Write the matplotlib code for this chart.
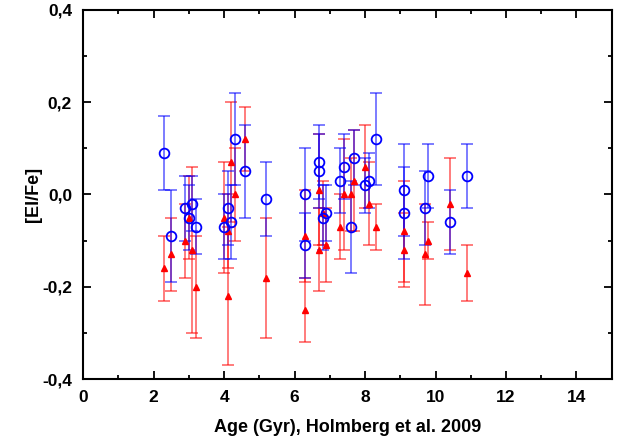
import numpy as np
import matplotlib
matplotlib.use("Agg")
from matplotlib import pyplot as plt
from matplotlib.ticker import MultipleLocator, FuncFormatter

# blue open circles
age_b = [2.3, 2.5, 2.9, 3.0, 3.1, 3.2, 4.0, 4.1, 4.2, 4.3, 4.6, 5.2,
         6.3, 6.3, 6.7, 6.7, 6.8, 6.9, 7.3, 7.4, 7.6, 7.7, 8.0, 8.1, 8.3,
         9.1, 9.1, 9.7, 9.8, 10.4, 10.9]
el_b = [0.09, -0.09, -0.03, -0.05, -0.02, -0.07, -0.07, -0.03, -0.06, 0.12, 0.05, -0.01,
        0.00, -0.11, 0.07, 0.05, -0.05, -0.04, 0.03, 0.06, -0.07, 0.08, 0.02, 0.03, 0.12,
        0.01, -0.04, -0.03, 0.04, -0.06, 0.04]
err_b = [0.08, 0.10, 0.07, 0.07, 0.06, 0.06, 0.07, 0.08, 0.08, 0.10, 0.10, 0.08,
         0.10, 0.07, 0.08, 0.08, 0.07, 0.06, 0.07, 0.07, 0.10, 0.06, 0.06, 0.06, 0.10,
         0.10, 0.10, 0.08, 0.07, 0.07, 0.07]

# red filled triangles
age_r = [2.3, 2.5, 2.9, 3.0, 3.1, 3.2, 4.0, 4.1, 4.1, 4.2, 4.3, 4.6, 5.2,
         6.3, 6.3, 6.7, 6.7, 6.8, 6.9, 7.3, 7.4, 7.6, 7.7, 8.0, 8.1, 8.3,
         9.1, 9.1, 9.7, 9.8, 10.4, 10.9]
el_r = [-0.16, -0.13, -0.10, -0.05, -0.12, -0.20, -0.05, -0.08, -0.22, 0.07, 0.00, 0.12, -0.18,
        -0.09, -0.25, 0.01, -0.12, -0.04, -0.11, -0.07, 0.00, 0.00, 0.03, 0.06, -0.02, -0.07,
        -0.08, -0.12, -0.13, -0.10, -0.02, -0.17]
err_r = [0.07, 0.08, 0.08, 0.09, 0.18, 0.11, 0.12, 0.08, 0.15, 0.13, 0.10, 0.07, 0.13,
         0.10, 0.07, 0.12, 0.09, 0.07, 0.08, 0.07, 0.12, 0.08, 0.11, 0.09, 0.09, 0.05,
         0.11, 0.08, 0.11, 0.04, 0.10, 0.06]

plt.rcParams['font.family'] = ['Liberation Sans', 'DejaVu Sans']
plt.rcParams['font.weight'] = 'bold'

fig = plt.figure(figsize=(6.3, 4.45), dpi=100)
ax = fig.add_axes([0.132, 0.148, 0.839, 0.83])

ax.errorbar(age_r, el_r, yerr=err_r, fmt='none', ecolor=(1, 0, 0, 0.6),
            elinewidth=1.2, capsize=4, capthick=1.2)
ax.errorbar(age_b, el_b, yerr=err_b, fmt='none', ecolor=(0, 0, 1, 0.6),
            elinewidth=1.2, capsize=4, capthick=1.2)
ax.plot(age_r, el_r, '^', color='red', markersize=5, linestyle='none')
ax.plot(age_b, el_b, 'o', mfc='none', mec='blue', mew=1.3, markersize=7, linestyle='none')

ax.set_xlim(0, 15)
ax.set_ylim(-0.4, 0.4)
ax.xaxis.set_major_locator(MultipleLocator(2))
ax.xaxis.set_minor_locator(MultipleLocator(1))
ax.yaxis.set_major_locator(MultipleLocator(0.2))
ax.yaxis.set_minor_locator(MultipleLocator(0.1))
ax.yaxis.set_major_formatter(FuncFormatter(lambda v, p: ('%.1f' % v).replace('.', ',').replace('-0,0', '0,0')))
ax.tick_params(which='both', direction='in', top=True, right=True, width=1.3, labelsize=12.5)
ax.tick_params(which='major', length=6)
ax.tick_params(which='minor', length=3)
ax.tick_params(axis='x', pad=8)
ax.tick_params(axis='y', pad=8)
for s in ax.spines.values():
    s.set_linewidth(1.5)

ax.set_xlabel('Age (Gyr), Holmberg et al. 2009', fontsize=13, fontweight='bold', labelpad=10)
ax.set_ylabel('[El/Fe]', fontsize=13, fontweight='bold', labelpad=0)

fig.savefig('out.png', dpi=100)
